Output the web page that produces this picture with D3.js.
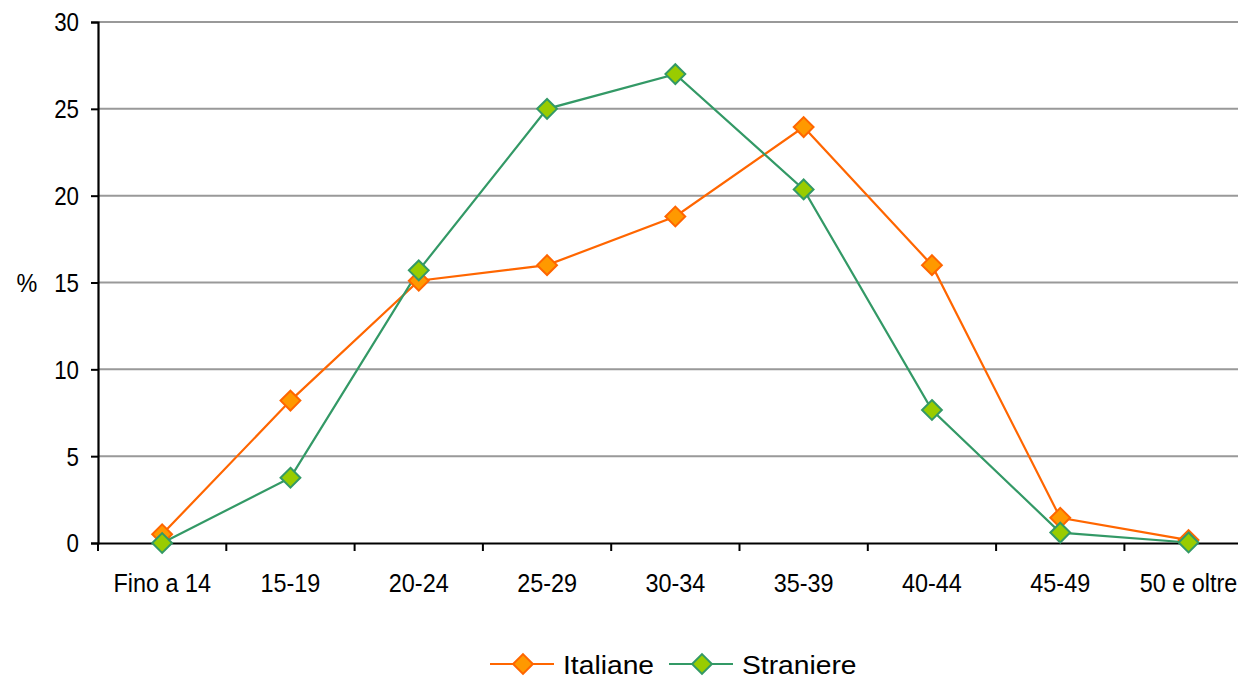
<!DOCTYPE html>
<html>
<head>
<meta charset="utf-8">
<script src="https://cdn.jsdelivr.net/npm/d3@7"></script>
<style>
  html, body { margin: 0; padding: 0; background: #fff; }
  svg { display: block; font-family: "Liberation Sans", Arial, sans-serif; }
</style>
</head>
<body>
<svg id="chart" width="1238" height="680"></svg>
<script>
// Age classes of mothers and percentage distributions
const categories = ["Fino a 14", "15-19", "20-24", "25-29", "30-34", "35-39", "40-44", "45-49", "50 e oltre"];
const italiane   = [0.5, 8.2, 15.1, 16.0, 18.8, 23.95, 16.0, 1.45, 0.17];
const straniere  = [0.0, 3.76, 15.7, 25.0, 27.0, 20.36, 7.66, 0.6, 0.03];
const yTicks     = [0, 5, 10, 15, 20, 25, 30];
const seriesNames = ["Italiane", "Straniere"];

const svg = d3.select("#chart");
const plotLeft = 98, plotTop = 22, plotBottom = 543;
const band = 128.3;
const plotRight = plotLeft + band * categories.length;

const x = d3.scaleBand().domain(categories).range([plotLeft, plotRight]);
const y = d3.scaleLinear().domain([0, 30]).range([plotBottom, plotTop]);

// horizontal gridlines
svg.append("g").selectAll("line").data(yTicks.filter(d => d > 0)).join("line")
  .attr("x1", plotLeft).attr("x2", plotRight)
  .attr("y1", d => y(d)).attr("y2", d => y(d))
  .attr("stroke", "#999").attr("stroke-width", 2);

// y axis
const ySx = 0.86;
const yAxis = svg.append("g").attr("transform", `translate(${plotLeft},0)`)
  .call(d3.axisLeft(y).tickValues(yTicks).tickSize(7).tickPadding(12));
yAxis.select(".domain").attr("stroke", "#000").attr("stroke-width", 2.2);
yAxis.selectAll(".tick line").attr("stroke", "#000").attr("stroke-width", 2);
yAxis.selectAll(".tick text")
  .attr("font-size", 26).attr("fill", "#000")
  .attr("font-family", "Liberation Sans, Arial, sans-serif")
  .attr("x", -19 / ySx).attr("dy", "0.34em")
  .attr("transform", `scale(${ySx},1)`);

// x axis
const xSx = 0.9;
const xAxis = svg.append("g").attr("transform", `translate(0,${plotBottom})`)
  .call(d3.axisBottom(x).tickSize(0));
xAxis.select(".domain").attr("stroke", "#000").attr("stroke-width", 2.2);
xAxis.selectAll(".tick text")
  .attr("font-size", 26).attr("fill", "#000")
  .attr("font-family", "Liberation Sans, Arial, sans-serif")
  .attr("y", 49).attr("dy", null)
  .attr("transform", `scale(${xSx},1)`);
// tick marks between categories
svg.append("g").selectAll("line").data(d3.range(categories.length + 1)).join("line")
  .attr("x1", i => plotLeft + i * x.step()).attr("x2", i => plotLeft + i * x.step())
  .attr("y1", plotBottom).attr("y2", plotBottom + 8)
  .attr("stroke", "#000").attr("stroke-width", 2);

// y label
svg.append("text")
  .attr("transform", `translate(27,${y(15) + 9}) scale(0.9,1)`)
  .attr("text-anchor", "middle").attr("font-size", 26).text("%");

const cx = c => x(c) + x.bandwidth() / 2;
const series = [
  { name: seriesNames[0], values: italiane,  line: "#FF6600", fill: "#FF9900" },
  { name: seriesNames[1], values: straniere, line: "#339966", fill: "#99CC00" }
];
const lineGen = d3.line().x((d, i) => cx(categories[i])).y(d => y(d));
const diamond = d3.symbol().type(d3.symbolDiamond2).size(250);

series.forEach(s => {
  svg.append("path").datum(s.values)
    .attr("d", lineGen).attr("fill", "none")
    .attr("stroke", s.line).attr("stroke-width", 2.2);
});
series.forEach(s => {
  svg.append("g").selectAll("path").data(s.values).join("path")
    .attr("d", diamond)
    .attr("transform", (d, i) => `translate(${cx(categories[i])},${y(d)})`)
    .attr("fill", s.fill).attr("stroke", s.line).attr("stroke-width", 2);
});

// legend
const legendY = 664;
const legendX = [490, 669];
series.forEach((s, i) => {
  const g = svg.append("g").attr("transform", `translate(${legendX[i]},${legendY})`);
  g.append("line").attr("x1", 0).attr("x2", 64).attr("y1", 0).attr("y2", 0)
    .attr("stroke", s.line).attr("stroke-width", 2.2);
  g.append("path").attr("d", diamond).attr("transform", "translate(33,0)")
    .attr("fill", s.fill).attr("stroke", s.line).attr("stroke-width", 2);
  g.append("text").attr("transform", "translate(73,10) scale(1.13,1)")
    .attr("font-size", 25).text(s.name);
});
</script>
</body>
</html>
